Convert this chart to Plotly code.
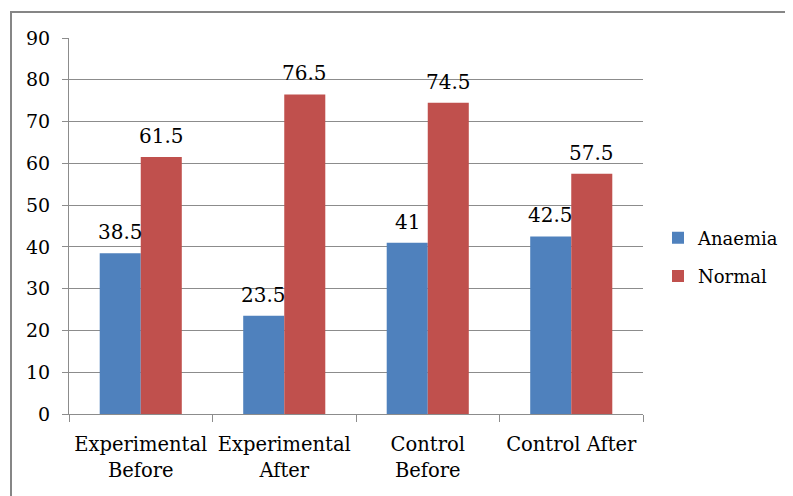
import plotly.graph_objects as go

categories = ["Experimental<br>Before", "Experimental<br>After", "Control<br>Before", "Control After"]
anaemia = [38.5, 23.5, 41, 42.5]
normal = [61.5, 76.5, 74.5, 57.5]
y_ticks = [0, 10, 20, 30, 40, 50, 60, 70, 80, 90]

OFF = 8  # page body margin
W, H = 793 - OFF, 496 - OFF
L, R, T, B = 69 - OFF, 150, 38 - OFF, 82
FONT = "DejaVu Serif"
BLUE = "#4F81BD"
RED = "#C0504D"
GRID = "#8C8C8C"


def fmt(v):
    return str(v).rstrip("0").rstrip(".") if isinstance(v, float) else str(v)


fig = go.Figure()
fig.add_trace(go.Bar(x=categories, y=anaemia, name="Anaemia", marker=dict(color=BLUE, line=dict(width=0)),
                     legendgroup="a"))
fig.add_trace(go.Bar(x=categories, y=normal, name="Normal", marker=dict(color=RED, line=dict(width=0)),
                     legendgroup="n"))

plot_w = W - L - R
ph = H - T - B
cat_w = plot_w / len(categories)
bargap = 0.428
bar_w = cat_w * (1 - bargap) / 2
annotations = []
for series, sgn in ((anaemia, -1), (normal, 1)):
    for cat, v in zip(categories, series):
        annotations.append(dict(x=cat, y=v, text=fmt(v), xref="x", yref="y", showarrow=False,
                                yanchor="bottom", xshift=sgn * bar_w / 2, yshift=7,
                                font=dict(family=FONT, size=20, color="#000")))

fig.update_layout(
    width=W, height=H,
    margin=dict(l=L, r=R, t=T, b=B, autoexpand=False),
    paper_bgcolor="white", plot_bgcolor="white",
    font=dict(family=FONT, size=19, color="#000"),
    barmode="group", bargap=bargap, bargroupgap=0,
    showlegend=True,
    legend=dict(x=(650 - L) / plot_w, y=(H - B - 257 + OFF) / ph, xanchor="left", yanchor="middle",
                font=dict(family=FONT, size=18, color="#000"), traceorder="grouped", tracegroupgap=12,
                itemwidth=30, bgcolor="rgba(0,0,0,0)"),
    annotations=annotations,
    shapes=[dict(type="rect", xref="paper", yref="paper",
                 x0=(11 - OFF - L) / plot_w, x1=(W + 20 - L) / plot_w,
                 y0=-(B + 20) / ph, y1=(H - B - (12 - OFF)) / ph,
                 line=dict(color="#868686", width=2), fillcolor="rgba(0,0,0,0)", layer="below")],
)
fig.update_xaxes(showline=True, linecolor=GRID, linewidth=1, ticks="outside", tickson="boundaries",
                 ticklen=7, tickcolor=GRID, showgrid=False, tickfont=dict(family=FONT, size=19.5),
                 ticklabelstandoff=13)
fig.update_yaxes(range=[0, 90], tickvals=y_ticks, showline=True, linecolor=GRID, linewidth=1,
                 ticks="outside", ticklen=6, tickcolor=GRID, showgrid=True, gridcolor=GRID, gridwidth=1,
                 zeroline=False, tickfont=dict(family=FONT, size=19), ticklabelstandoff=8)

fig.write_html("out.html")
